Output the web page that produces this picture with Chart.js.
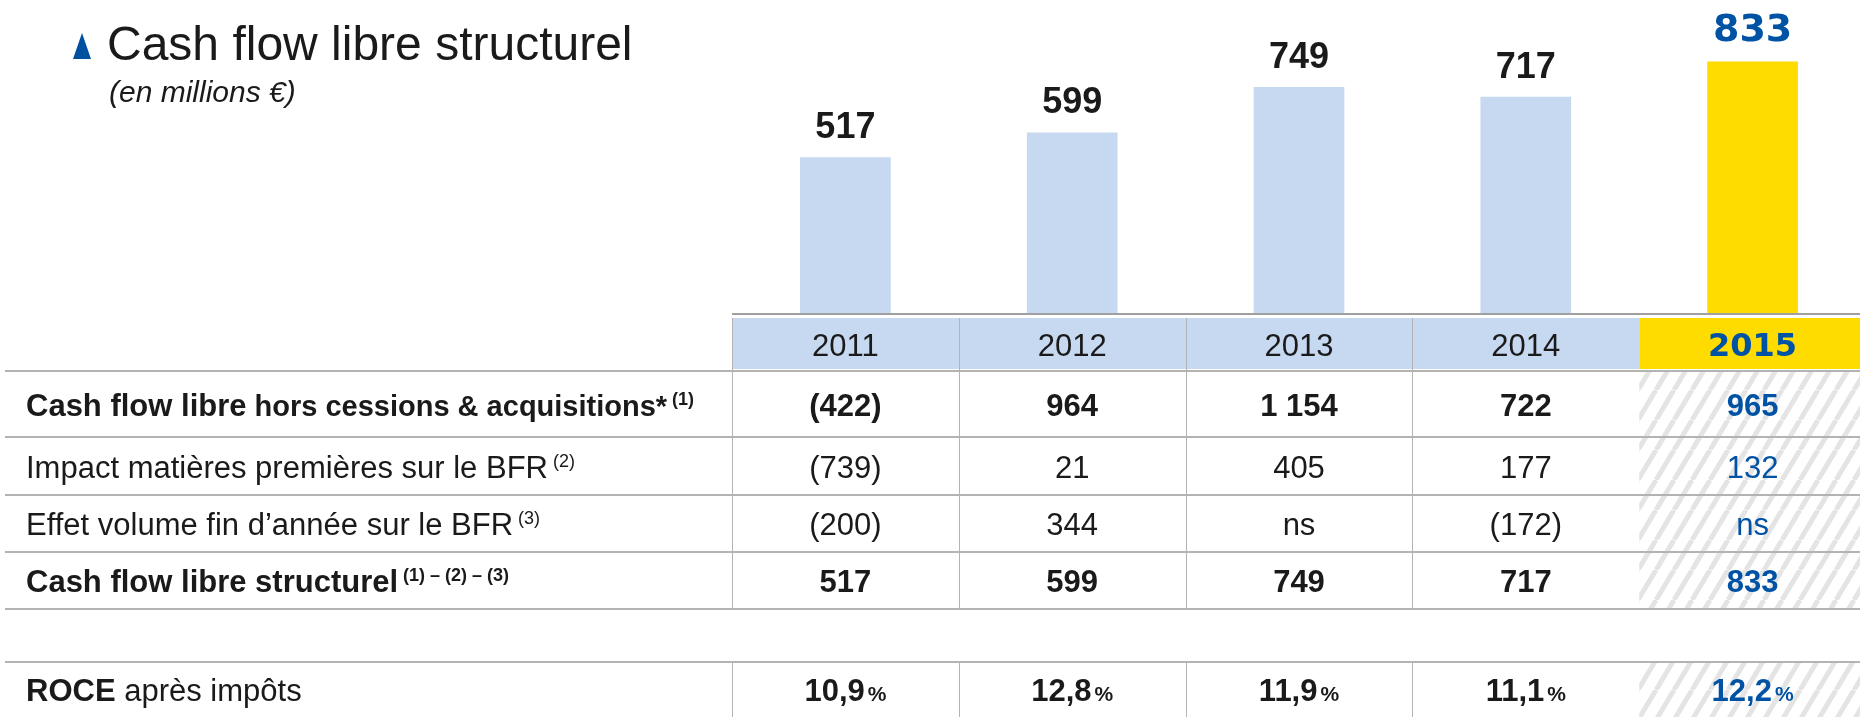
<!DOCTYPE html>
<html>
<head>
<meta charset="utf-8">
<script src="https://cdn.jsdelivr.net/npm/chart.js@4.4.0/dist/chart.umd.min.js"></script>
<style>
  html, body { margin: 0; padding: 0; background: #fff; overflow: hidden; }
  canvas { display: block; }
</style>
</head>
<body>
<canvas id="myChart" width="1866" height="717"></canvas>
<script>
// data
const years = ['2011', '2012', '2013', '2014', '2015'];
const cashFlowStructurel = [517, 599, 749, 717, 833];
const cashFlowHorsCessions = [-422, 964, 1154, 722, 965];
const impactMatieres = [-739, 21, 405, 177, 132];
const effetVolume = [-200, 344, null, -172, null];   // null = "ns"
const roceApresImpots = [10.9, 12.8, 11.9, 11.1, 12.2];

const FONT = '"Liberation Sans", Arial, sans-serif';
const WIDE = '"DejaVu Sans", sans-serif';
const DARK = '#1a1a1a';
const BLUE = '#0052a4';
const LIGHTBLUE = '#c6d9f0';
const YELLOW = '#ffdc00';
const LINE = '#b3b3b3';

function fmt(v) {
    if (v === null) return 'ns';
    var s = Math.abs(v).toString().replace(/\B(?=(\d{3})+(?!\d))/g, ' ');
    return v < 0 ? '(' + s + ')' : s;
}

// label pieces: [text, font, raise]
const sup = '18px ' + FONT;
const rows = [
    { top: 372, bottom: 437, bold: true, values: cashFlowHorsCessions,
      label: [['Cash flow libre', 'bold 31px ' + FONT], [' hors cessions & acquisitions*', 'bold 29px ' + FONT], [' (1)', 'bold ' + sup, -11]] },
    { top: 438, bottom: 495, bold: false, values: impactMatieres,
      label: [['Impact matières premières sur le BFR', '31px ' + FONT], [' (2)', sup, -11]] },
    { top: 496, bottom: 552, bold: false, values: effetVolume,
      label: [['Effet volume fin d\u2019année sur le BFR', '31px ' + FONT], [' (3)', sup, -11]] },
    { top: 553, bottom: 609, bold: true, values: cashFlowStructurel,
      label: [['Cash flow libre structurel', 'bold 31px ' + FONT], [' (1) \u2013 (2) \u2013 (3)', 'bold ' + sup, -11]] }
];
const roceRow = { top: 663, bottom: 717,
    label: [['ROCE', 'bold 31px ' + FONT], [' après impôts', '31px ' + FONT]] };

function drawPieces(c, pieces, x, y) {
    pieces.forEach(function (p) {
        c.font = p[1];
        c.fillText(p[0], x, y + (p[2] || 0));
        x += c.measureText(p[0]).width;
    });
}

function hatchPattern(c) {
    var w = 18, h = 30;
    var t = document.createElement('canvas');
    t.width = w; t.height = h;
    var g = t.getContext('2d');
    g.strokeStyle = '#e4e4e4';
    g.lineWidth = 5;
    g.beginPath();
    for (var k = -1; k <= 1; k++) {
        g.moveTo(k * w, h);
        g.lineTo(k * w + w, 0);
    }
    g.stroke();
    return c.createPattern(t, 'repeat');
}

const tablePlugin = {
    id: 'table',
    afterDraw: function (chart) {
        var c = chart.ctx;
        var xs = chart.scales.x;
        var colW = xs.width / years.length;
        var centers = years.map(function (y, i) { return xs.getPixelForValue(i); });
        var lefts = centers.map(function (x) { return x - colW / 2; });
        var right = chart.width;
        var last = years.length - 1;
        c.save();

        // header row
        c.fillStyle = LIGHTBLUE;
        c.fillRect(lefts[0], 318, lefts[last] - lefts[0], 51);
        c.fillStyle = YELLOW;
        c.fillRect(lefts[last], 318, right - lefts[last], 51);

        // hatched 2015 column
        c.fillStyle = hatchPattern(c);
        c.fillRect(lefts[last], 372, right - lefts[last], 237);
        c.fillRect(lefts[last], 663, right - lefts[last], 54);

        // vertical lines
        c.fillStyle = LINE;
        for (var i = 0; i < last; i++) {
            var x = Math.round(lefts[i]);
            c.fillRect(x, 318, 1, 292);
            c.fillRect(x, 663, 1, 54);
        }

        // horizontal lines
        c.fillStyle = '#a0a0a0';
        c.fillRect(lefts[0], 313, right - lefts[0], 2);
        c.fillStyle = LINE;
        [370, 436, 494, 551, 608, 661].forEach(function (y) { c.fillRect(5, y, right - 5, 2); });

        // header text
        c.textBaseline = 'alphabetic';
        c.textAlign = 'center';
        years.forEach(function (y, i) {
            if (i === last) { c.font = 'bold 32px ' + WIDE; c.fillStyle = BLUE; }
            else { c.font = '31px ' + FONT; c.fillStyle = DARK; }
            c.fillText(y, centers[i], 356);
        });

        // data rows
        rows.forEach(function (r) {
            var base = (r.top + r.bottom) / 2 + 11;
            c.textAlign = 'left';
            c.fillStyle = DARK;
            drawPieces(c, r.label, 26, base);
            c.textAlign = 'center';
            c.font = (r.bold ? 'bold ' : '') + '31px ' + FONT;
            r.values.forEach(function (v, i) {
                c.fillStyle = i === last ? BLUE : DARK;
                c.fillText(fmt(v), centers[i], base);
            });
        });

        // ROCE row
        var rb = (roceRow.top + roceRow.bottom) / 2 + 11;
        c.textAlign = 'left';
        c.fillStyle = DARK;
        drawPieces(c, roceRow.label, 26, rb);
        roceApresImpots.forEach(function (v, i) {
            var num = v.toFixed(1).replace('.', ',');
            c.font = 'bold 31px ' + FONT;
            var w1 = c.measureText(num).width;
            c.font = 'bold 21px ' + FONT;
            var w2 = c.measureText('%').width;
            var x0 = centers[i] - (w1 + 3 + w2) / 2;
            c.fillStyle = i === last ? BLUE : DARK;
            c.font = 'bold 31px ' + FONT;
            c.fillText(num, x0, rb);
            c.font = 'bold 21px ' + FONT;
            c.fillText('%', x0 + w1 + 3, rb);
        });

        // value labels above bars
        var meta = chart.getDatasetMeta(0);
        c.textAlign = 'center';
        meta.data.forEach(function (bar, i) {
            if (i === last) { c.font = 'bold 38px ' + WIDE; c.fillStyle = BLUE; }
            else { c.font = 'bold 36px ' + FONT; c.fillStyle = DARK; }
            c.fillText(cashFlowStructurel[i], bar.x, bar.y - (i === last ? 21 : 19));
        });

        // title
        c.fillStyle = '#0050a0';
        c.beginPath();
        c.moveTo(82, 33); c.lineTo(91, 59); c.lineTo(73, 59); c.closePath();
        c.fill();
        c.fillStyle = DARK;
        c.textAlign = 'left';
        c.font = '48px ' + FONT;
        c.fillText('Cash flow libre structurel', 107, 60);
        c.font = 'italic 30px ' + FONT;
        c.fillText('(en millions \u20ac)', 109, 102);

        c.restore();
    }
};

var ctx = document.getElementById('myChart').getContext('2d');
var myChart = new Chart(ctx, {
    type: 'bar',
    data: {
        labels: years,
        datasets: [{
            data: cashFlowStructurel,
            backgroundColor: years.map(function (y, i) { return i === years.length - 1 ? YELLOW : LIGHTBLUE; }),
            borderWidth: 0,
            barPercentage: 0.4,
            categoryPercentage: 1
        }]
    },
    options: {
        responsive: false,
        animation: false,
        layout: { padding: { left: 732, right: 0, top: 14, bottom: 403 } },
        scales: {
            x: { display: false },
            y: { display: false, min: 0, max: 990 }
        },
        plugins: {
            legend: { display: false },
            tooltip: { enabled: false }
        }
    },
    plugins: [tablePlugin]
});
</script>
</body>
</html>
